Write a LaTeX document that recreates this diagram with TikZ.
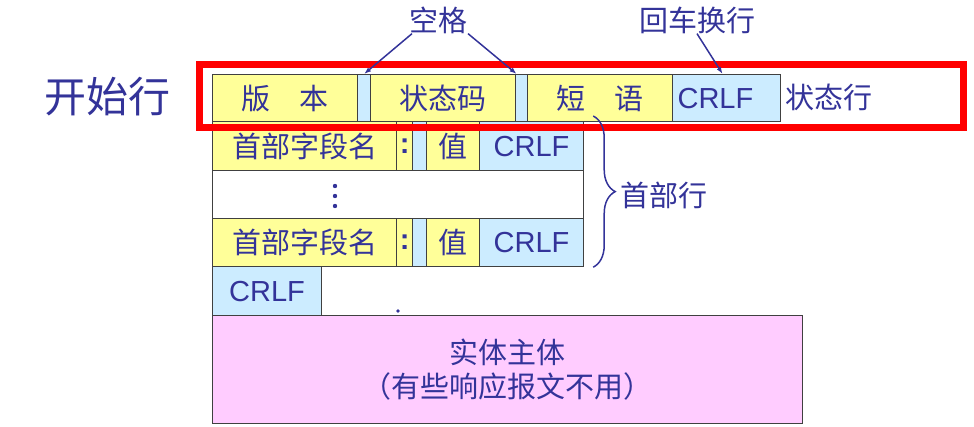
\documentclass[tikz,border=0pt]{standalone}
\usepackage{fontspec}
\setmainfont{Noto Sans CJK SC}
\newfontfamily\latfont{Liberation Sans}
\usetikzlibrary{arrows.meta,decorations.pathreplacing}
\definecolor{txtblue}{RGB}{51,51,153}
\definecolor{fldyellow}{RGB}{255,255,153}
\definecolor{fldblue}{RGB}{204,236,255}
\definecolor{fldpink}{RGB}{255,204,255}
\definecolor{fldline}{RGB}{64,64,64}
\tikzset{
	fld/.style={draw=fldline, line width=1.2pt, anchor=north west, inner sep=0pt, text=txtblue, font=\fontsize{29}{34}\selectfont},
	yel/.style={fld, fill=fldyellow},
	blu/.style={fld, fill=fldblue},
	wht/.style={fld, fill=white},
	pnk/.style={fld, fill=fldpink},
	crlf/.style={font=\latfont\fontsize{29}{34}\selectfont},
	colonf/.style={font=\latfont\bfseries\fontsize{29}{34}\selectfont},
	lbl/.style={inner sep=2pt, text=txtblue, font=\fontsize{29}{34}\selectfont},
	ptr/.style={draw=txtblue, line width=1.5pt, -{Latex[length=7pt,width=5pt]}},
}
\begin{document}
\begin{tikzpicture}[x=1pt,y=1pt,yscale=-1,xscale=1]
		\useasboundingbox (0,0) rectangle (974,427);
		
		%Status line fields
		\node [yel, minimum width=145pt, minimum height=47pt] (ver) at (212,74) {版\quad 本};
		\node [blu, minimum width=13pt, minimum height=47pt] (sp1) at (357,74) {};
		\node [yel, minimum width=145pt, minimum height=47pt] (code) at (370,74) {状态码};
		\node [blu, minimum width=12pt, minimum height=47pt] (sp2) at (515,74) {};
		\node [yel, minimum width=145pt, minimum height=47pt] (phrase) at (527,74) {短\quad 语};
		\node [blu, crlf, minimum width=108pt, minimum height=47pt, text width=98pt, align=left] (crlf0) at (672,74) {CRLF};
		
		%Header line 1
		\node [yel, minimum width=184pt, minimum height=49pt] (hname1) at (212,121) {首部字段名};
		\node [yel, colonf, minimum width=16pt, minimum height=49pt] (colon1) at (396,121) {:};
		\node [blu, minimum width=14pt, minimum height=49pt] (hsp1) at (412,121) {};
		\node [yel, minimum width=53pt, minimum height=49pt] (val1) at (426,121) {值};
		\node [blu, crlf, minimum width=104pt, minimum height=49pt] (hcrlf1) at (479,121) {CRLF};
		
		%Header dots
		\node [wht, minimum width=371pt, minimum height=48pt] (hdots) at (212,170) {};
		\fill [txtblue] (335,186) circle (2.2pt);
		\fill [txtblue] (335,196) circle (2.2pt);
		\fill [txtblue] (335,206) circle (2.2pt);
		
		%Header line 3
		\node [yel, minimum width=184pt, minimum height=48pt] (hname3) at (212,218) {首部字段名};
		\node [yel, colonf, minimum width=16pt, minimum height=48pt] (colon3) at (396,218) {:};
		\node [blu, minimum width=14pt, minimum height=48pt] (hsp3) at (412,218) {};
		\node [yel, minimum width=53pt, minimum height=48pt] (val3) at (426,218) {值};
		\node [blu, crlf, minimum width=104pt, minimum height=48pt] (hcrlf3) at (479,218) {CRLF};
		
		%Empty line and body
		\node [blu, crlf, minimum width=109pt, minimum height=49pt] (endcrlf) at (212,266) {CRLF};
		\fill [txtblue] (398,311) circle (1.8pt);
		\node [pnk, minimum width=590pt, minimum height=108pt, align=center] (body) at (212,315) {实体主体\\（有些响应报文不用）};
		
		%Red frame round the start line
		\draw [red, line width=7pt] (199,64.5) rectangle (963,127.5);
		
		% Text Node
		\node [lbl, font=\fontsize{42}{48}\selectfont] (startline) at (107,97) {开始行};
		% Text Node
		\node [lbl, anchor=west] (statusline) at (783,97) {状态行};
		% Text Node
		\node [lbl] (kongge) at (438,20) {空格};
		% Text Node
		\node [lbl] (huiche) at (697,20) {回车换行};
		% Text Node
		\node [lbl, anchor=west] (headline) at (618,195) {首部行};
		
		%Pointers
		\draw [ptr] ([xshift=-26pt,yshift=-2pt]kongge.south) -- (sp1.north);
		\draw [ptr] ([xshift=30pt,yshift=-2pt]kongge.south) -- ([xshift=-5pt]sp2.north);
		\draw [ptr] ([yshift=-2pt]huiche.south) -- ([xshift=-4pt]crlf0.north);
		
		%Brace
		\draw [txtblue, line width=1.5pt, decorate, decoration={brace, amplitude=22pt}] ([xshift=9pt,yshift=-5pt]hcrlf1.north east) -- ([xshift=9pt]hcrlf3.south east);
		
	\end{tikzpicture}
\end{document}
